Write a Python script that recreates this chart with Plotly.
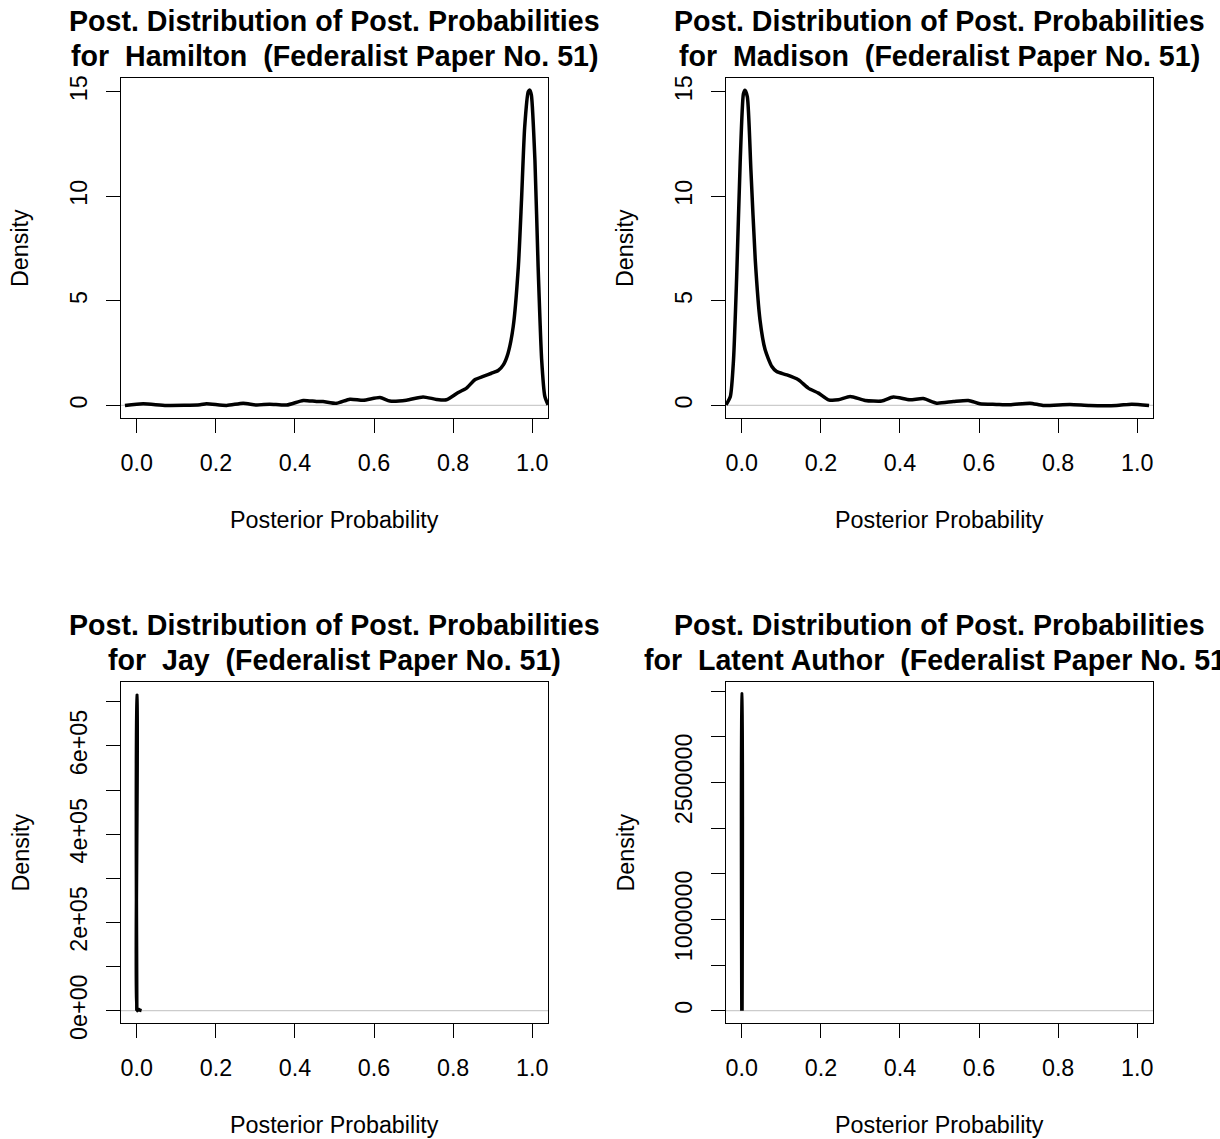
import plotly.graph_objects as go

W, H = 1220, 1139

# ---------------- data ----------------
hamilton_x = [-0.030, 0.016, 0.075, 0.160, 0.176, 0.227, 0.269, 0.303, 0.336, 0.379,
              0.421, 0.454, 0.471, 0.505, 0.539, 0.573, 0.615, 0.640, 0.682, 0.724,
              0.758, 0.783, 0.813, 0.834, 0.855, 0.876, 0.897, 0.914, 0.927, 0.939,
              0.952, 0.965, 0.973, 0.981, 0.990, 0.994, 0.998, 1.007, 1.015, 1.024,
              1.032, 1.040]
hamilton_y = [0.00, 0.08, 0.00, 0.03, 0.08, 0.00, 0.11, 0.02, 0.06, 0.02,
              0.24, 0.19, 0.19, 0.10, 0.30, 0.25, 0.38, 0.21, 0.25, 0.41,
              0.29, 0.27, 0.62, 0.83, 1.23, 1.39, 1.54, 1.67, 1.94, 2.50,
              3.77, 6.64, 9.82, 13.30, 15.00, 15.08, 14.84, 11.70, 6.64, 2.18,
              0.43, 0.03]

madison_x = [-0.040, -0.029, -0.021, -0.013, -0.004, 0.004, 0.008, 0.014, 0.023, 0.034,
             0.046, 0.059, 0.076, 0.088, 0.114, 0.143, 0.168, 0.194, 0.219, 0.244,
             0.274, 0.312, 0.354, 0.383, 0.425, 0.459, 0.493, 0.535, 0.573, 0.602,
             0.644, 0.678, 0.729, 0.762, 0.830, 0.880, 0.948, 0.986, 1.030]
madison_y = [0.03, 0.43, 2.18, 6.16, 11.70, 14.90, 15.08, 14.76, 11.26, 6.96,
             4.09, 2.66, 1.86, 1.62, 1.46, 1.23, 0.83, 0.59, 0.27, 0.27,
             0.43, 0.24, 0.21, 0.40, 0.27, 0.33, 0.11, 0.19, 0.24, 0.08,
             0.05, 0.03, 0.11, 0.00, 0.05, 0.00, 0.00, 0.06, 0.00]

jay_x = [0.0000, 0.0004, 0.0008, 0.0012, 0.0040, 0.0080, 0.0120]
jay_y = [0, 715000, 715000, 0, 3000, 1000, 0]

latent_x = [0.0000, 0.0002, 0.0004, 0.0006]
latent_y = [0, 3470000, 3470000, 0]

x_ticks = [0.0, 0.2, 0.4, 0.6, 0.8, 1.0]
x_ticktext = ["0.0", "0.2", "0.4", "0.6", "0.8", "1.0"]
top_y_ticks = [0, 5, 10, 15]
top_y_ticktext = ["0", "5", "10", "15"]
jay_y_ticks = [0, 100000, 200000, 300000, 400000, 500000, 600000, 700000]
jay_y_ticktext = ["0e+00", "", "2e+05", "", "4e+05", "", "6e+05", ""]
lat_y_ticks = [0, 500000, 1000000, 1500000, 2000000, 2500000, 3000000, 3500000]
lat_y_ticktext = ["0", "", "1000000", "", "", "2500000", "", ""]

authors = ["Hamilton", "Madison", "Jay", "Latent Author"]
title_line1 = "Post. Distribution of Post. Probabilities"
title_line2 = "for  {}  (Federalist Paper No. 51)"
x_title = "Posterior Probability"
y_title = "Density"

# ---------------- layout geometry (pixels) ----------------
boxes = [  # (left, right, top, bottom)
    (121, 548, 78, 418),
    (726, 1153, 78, 418),
    (121, 548, 682, 1023),
    (726, 1153, 682, 1023),
]
yranges = [[-0.6, 15.66], [-0.6, 15.66], [-28000, 745000], [-135000, 3600000]]
ytickvals = [top_y_ticks, top_y_ticks, jay_y_ticks, lat_y_ticks]
yticktexts = [top_y_ticktext, top_y_ticktext, jay_y_ticktext, lat_y_ticktext]
series = [(hamilton_x, hamilton_y), (madison_x, madison_y), (jay_x, jay_y), (latent_x, latent_y)]

FONT = "Liberation Sans, Arial, sans-serif"
AX_FS = 23.3
TI_FS = 28.6

fig = go.Figure()
layout = dict(
    width=W, height=H, margin=dict(l=0, r=0, t=0, b=0, pad=0, autoexpand=False),
    paper_bgcolor="white", plot_bgcolor="white", showlegend=False,
    font=dict(family=FONT, size=AX_FS, color="black"),
)
annotations = []
shapes = []

def px(x):
    return x / W

def py(y):
    return 1 - y / H

for i, (l, r, t, b) in enumerate(boxes):
    k = "" if i == 0 else str(i + 1)
    xs, ys = series[i]
    fig.add_trace(go.Scatter(x=xs, y=ys, mode="lines",
                             line=dict(color="black", width=3.5, shape="spline", smoothing=0.6),
                             xaxis="x" + k, yaxis="y" + k, hoverinfo="skip"))
    layout["xaxis" + k] = dict(
        domain=[px(l), px(r)], anchor="y" + k, range=[-0.04, 1.04], automargin=False,
        tickvals=x_ticks, ticktext=x_ticktext, ticks="outside", ticklen=14,
        tickwidth=1.3, tickcolor="black", showline=True, linecolor="black",
        linewidth=1.3, mirror=True, showgrid=False, zeroline=False,
        tickfont=dict(family=FONT, size=AX_FS, color="black"), ticklabelstandoff=10,
    )
    layout["yaxis" + k] = dict(
        domain=[py(b), py(t)], anchor="x" + k, range=yranges[i], automargin=False,
        tickvals=ytickvals[i], ticktext=yticktexts[i], ticks="outside", ticklen=14,
        tickwidth=1.3, tickcolor="black", showline=True, linecolor="black",
        linewidth=1.3, mirror=True, showgrid=False, zeroline=False, tickangle=-90,
        tickfont=dict(family=FONT, size=AX_FS, color="black"), ticklabelstandoff=10,
    )
    # grey reference line at zero density
    shapes.append(dict(type="line", xref="x" + k + " domain", yref="y" + k,
                       x0=0, x1=1, y0=0, y1=0, line=dict(color="#cccccc", width=1.2),
                       layer="below"))
    cx = (l + r) / 2
    annotations.append(dict(text="<b>" + title_line1 + "</b>", x=px(cx), y=py(t - 57),
                            xref="paper", yref="paper", showarrow=False,
                            xanchor="center", yanchor="middle",
                            font=dict(family=FONT, size=TI_FS, color="black")))
    annotations.append(dict(text="<b>" + title_line2.format(authors[i]) + "</b>",
                            x=px(cx), y=py(t - 22), xref="paper", yref="paper",
                            showarrow=False, xanchor="center", yanchor="middle",
                            font=dict(family=FONT, size=TI_FS, color="black")))
    annotations.append(dict(text=x_title, x=px(cx), y=py(b + 102), xref="paper",
                            yref="paper", showarrow=False, xanchor="center",
                            yanchor="middle", font=dict(family=FONT, size=AX_FS, color="black")))
    annotations.append(dict(text=y_title, x=px(l - 101), y=py((t + b) / 2), xref="paper",
                            yref="paper", showarrow=False, xanchor="center",
                            yanchor="middle", textangle=-90,
                            font=dict(family=FONT, size=AX_FS, color="black")))

layout["annotations"] = annotations
layout["shapes"] = shapes
fig.update_layout(**layout)
fig.write_html("out.html")
